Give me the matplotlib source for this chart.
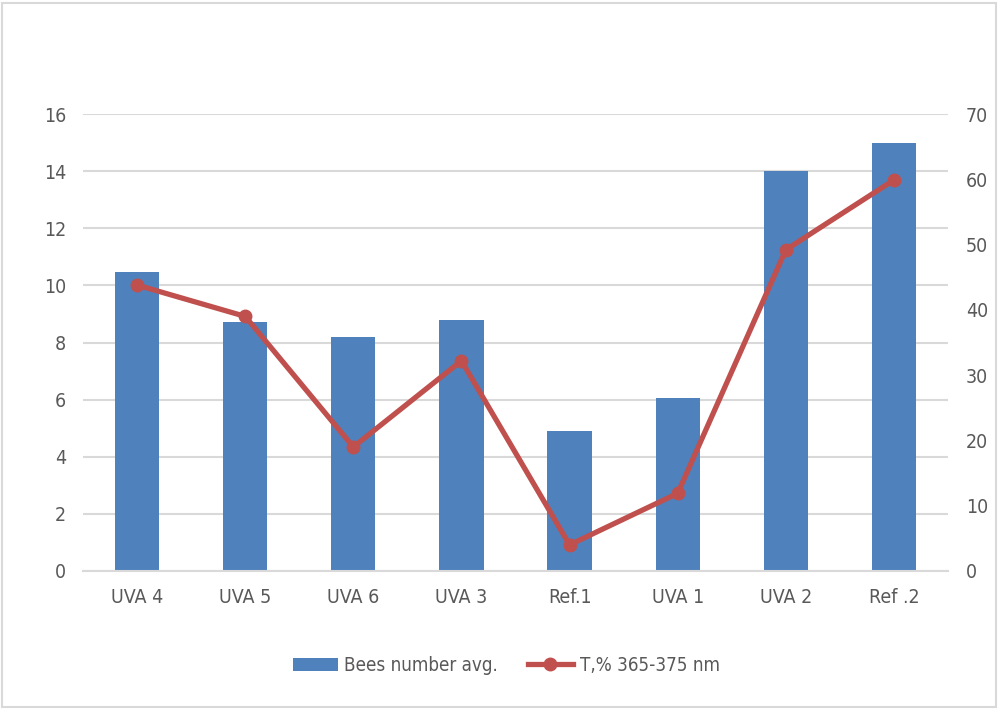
import matplotlib.pyplot as plt
from matplotlib.patches import Rectangle

plt.rcParams['font.family'] = ['DejaVu Sans']
plt.rcParams['font.stretch'] = 'condensed'

categories = ["UVA 4", "UVA 5", "UVA 6", "UVA 3", "Ref.1", "UVA 1", "UVA 2", "Ref .2"]
bees = [10.47, 8.72, 8.19, 8.79, 4.90, 6.06, 14.0, 15.0]
transmission = [43.8, 39.0, 19.0, 32.2, 4.0, 11.9, 49.2, 59.9]

text_color = '#595959'
grid_color = '#d9d9d9'

fig = plt.figure(figsize=(10, 7.1), dpi=100)
ax = fig.add_axes([0.083, 0.1958, 0.865, 0.6436])
ax2 = ax.twinx()

x = range(len(categories))
ax.bar(x, bees, width=0.41, color='#4f81bd', label='Bees number avg.', zorder=2)
ax2.plot(x, transmission, color='#c0504d', lw=3.8, marker='o', markersize=9,
         label='T,% 365-375 nm', zorder=3)

ax.set_ylim(0, 16)
ax.set_yticks(range(0, 17, 2))
ax2.set_ylim(0, 70)
ax2.set_yticks(range(0, 71, 10))
ax.set_xlim(-0.5, len(categories) - 0.5)
ax.set_xticks(list(x))
ax.set_xticklabels(categories)

ax.grid(axis='y', color=grid_color, lw=1.5, zorder=0)
ax.set_axisbelow(True)
for a in (ax, ax2):
    for s in a.spines.values():
        s.set_visible(False)
    a.tick_params(length=0, labelsize=14, colors=text_color)
ax.spines['bottom'].set_visible(True)
ax.spines['bottom'].set_color(grid_color)
ax.spines['bottom'].set_linewidth(1.5)
ax.tick_params(axis='y', pad=12)
ax.tick_params(axis='x', pad=12)
ax2.tick_params(axis='y', pad=13)

h1, l1 = ax.get_legend_handles_labels()
h2, l2 = ax2.get_legend_handles_labels()
fig.legend(h1 + h2, l1 + l2, loc='center', bbox_to_anchor=(0.506, 0.063), ncol=2,
           frameon=False, fontsize=13.5, labelcolor=text_color, handlelength=2.4,
           columnspacing=1.6, handletextpad=0.35)

fig.patches.append(Rectangle((0.002, 0.004), 0.994, 0.992, transform=fig.transFigure,
                             fill=False, edgecolor='#d9d9d9', lw=1.5))

fig.savefig('out.png', dpi=100)
